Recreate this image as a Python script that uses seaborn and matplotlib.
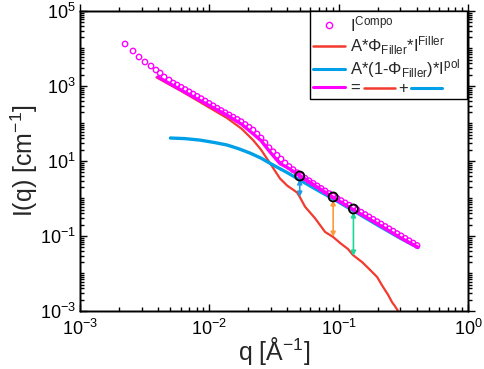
import seaborn as sns
import matplotlib.pyplot as plt
import numpy as np
import pandas as pd
from matplotlib.lines import Line2D
from matplotlib.ticker import FixedLocator, LogLocator, NullFormatter

# I^Compo : measured composite curve (open circles)
q_compo = [0.00223, 0.00257, 0.00286, 0.00318, 0.00354, 0.00387, 0.00416, 0.00447, 0.00488, 0.00524, 0.00562,
           0.00604, 0.00649, 0.00697, 0.00748, 0.00803, 0.00862, 0.00926, 0.00994, 0.01068, 0.01147,
           0.01231, 0.01322, 0.01420, 0.01525, 0.01637, 0.01758, 0.01888, 0.02027, 0.02176, 0.02337,
           0.02510, 0.02695, 0.02894, 0.03107, 0.03336, 0.03583, 0.03847, 0.04131, 0.04436, 0.04763,
           0.05115, 0.05492, 0.05897, 0.06333, 0.06800, 0.07302, 0.07841, 0.08419, 0.09041, 0.09708,
           0.1042, 0.1119, 0.1202, 0.1291, 0.1386, 0.1488, 0.1598, 0.1716, 0.1843, 0.1979,
           0.2125, 0.2281, 0.2450, 0.2631, 0.2825, 0.3033, 0.3257, 0.3497, 0.3755, 0.4033]
i_compo = [13200, 8580, 5930, 4365, 3415, 2670, 2220, 1740, 1445, 1200, 1064,
           926, 806, 701, 611, 531, 461, 398, 344, 297, 256,
           222, 194, 169, 148, 129, 112, 94.3, 79.5, 67.1, 52.5,
           41.1, 30.7, 22.6, 17.7, 14.2, 11.3, 8.85, 7.12, 5.89, 4.88,
           4.07, 3.48, 2.98, 2.55, 2.18, 1.86, 1.59, 1.36, 1.17, 1.01,
           0.881, 0.765, 0.665, 0.578, 0.500, 0.432, 0.374, 0.323, 0.279, 0.241,
           0.209, 0.180, 0.156, 0.135, 0.116, 0.101, 0.087, 0.075, 0.065, 0.056]

# A*Phi_Filler*I^Filler
q_filler = [0.0039, 0.0063, 0.010, 0.0137, 0.0178, 0.0218, 0.0251, 0.0294, 0.0352, 0.040, 0.0476,
            0.050, 0.055, 0.0655, 0.0785, 0.0906, 0.1026, 0.118, 0.129, 0.152, 0.166, 0.198,
            0.220, 0.241, 0.259, 0.270, 0.288]
i_filler = [1700, 680, 265, 140, 72, 36, 20, 8.8, 3.4, 2.2, 1.45,
            1.1, 0.60, 0.30, 0.128, 0.094, 0.065, 0.045, 0.031, 0.020, 0.0149, 0.0081,
            0.0044, 0.0027, 0.0017, 0.0014, 0.0010]

# A*(1-Phi_Filler)*I^pol
q_pol = [0.0050, 0.0065, 0.0085, 0.0110, 0.0137, 0.0170, 0.0206, 0.025, 0.0311, 0.040, 0.0502,
         0.070, 0.0906, 0.13, 0.20, 0.30, 0.41]
i_pol = [41, 39.5, 36, 31, 26.7, 21, 16.3, 12, 7.8, 4.9, 3.1,
         1.6, 0.98, 0.47, 0.195, 0.087, 0.049]

# sum of the two contributions
q_sum = [0.0040, 0.0063, 0.010, 0.0137, 0.0178, 0.0218, 0.0251, 0.0294, 0.0352, 0.040, 0.0502,
         0.070, 0.0906, 0.13, 0.20, 0.30, 0.41]
i_sum = [1740, 720, 300, 167, 95, 53, 35, 17.5, 8.5, 6.7, 4.1,
         1.9, 1.07, 0.50, 0.21, 0.09, 0.050]

# highlighted points and the arrows under them
q_marks = [0.050, 0.0906, 0.130]
i_marks = [3.98, 1.10, 0.525]
arrow_top = [3.3, 0.91, 0.436]
arrow_bottom = [1.1, 0.094, 0.0293]
arrow_colors = ["#1e9be6", "#ff9a3c", "#1fd69c"]

red = "#f23a2e"
blue = "#00a0e9"
magenta = "#ff00ff"

sns.set_style("ticks")
plt.rcParams['font.family'] = ['Liberation Sans', 'DejaVu Sans']
plt.rcParams['mathtext.fontset'] = 'custom'
plt.rcParams['mathtext.rm'] = 'Liberation Sans'
plt.rcParams['mathtext.it'] = 'Liberation Sans:italic'
plt.rcParams['mathtext.bf'] = 'Liberation Sans:bold'
plt.rcParams['axes.unicode_minus'] = False

fig = plt.figure(figsize=(4.84, 3.69), dpi=100)
ax = fig.add_axes([0.1653, 0.1572, 0.8017, 0.813])

sns.lineplot(x=q_filler, y=i_filler, color=red, lw=1.6, sort=False, estimator=None, ax=ax, zorder=2)
sns.lineplot(x=q_pol, y=i_pol, color=blue, lw=2.4, sort=False, estimator=None, ax=ax, zorder=3)
sns.lineplot(x=q_sum, y=i_sum, color=magenta, lw=2.4, sort=False, estimator=None, ax=ax, zorder=4)
sns.scatterplot(x=q_compo, y=i_compo, marker='o', s=15, facecolors='none', edgecolor=magenta,
                linewidth=1.0, ax=ax, zorder=5)
sns.scatterplot(x=q_marks, y=i_marks, marker='o', s=42, facecolors='none', edgecolor='black',
                linewidth=1.3, ax=ax, zorder=7)
for q, top, bot, c in zip(q_marks, arrow_top, arrow_bottom, arrow_colors):
    ax.annotate("", xy=(q, bot), xytext=(q, top),
                arrowprops=dict(arrowstyle='<|-|>', color=c, lw=1.2, mutation_scale=7,
                                shrinkA=0, shrinkB=0), zorder=6)

ax.set_xscale('log')
ax.set_yscale('log')
ax.set_xlim(1e-3, 1)
ax.set_ylim(1e-3, 1e5)

ax.xaxis.set_major_locator(FixedLocator([1e-3, 1e-2, 1e-1, 1]))
ax.xaxis.set_minor_locator(LogLocator(base=10, subs=np.arange(2, 10), numticks=20))
ax.xaxis.set_minor_formatter(NullFormatter())
ax.yaxis.set_major_locator(FixedLocator([1e-3, 1e-1, 1e1, 1e3, 1e5]))
ax.yaxis.set_minor_locator(LogLocator(base=10, subs=np.arange(1, 10), numticks=30))
ax.yaxis.set_minor_formatter(NullFormatter())
ax.tick_params(which='both', direction='in', top=False, right=False, labelsize=13,
               colors='black', width=1.0)
ax.tick_params(which='major', length=5)
ax.tick_params(which='minor', length=3)
ax.tick_params(axis='x', which='major', pad=6)
ax.tick_params(axis='y', which='major', pad=3)
for s in ax.spines.values():
    s.set_visible(True)
    s.set_color('black')
    s.set_linewidth(1.0)

ax.set_xlabel("q [Å$^{-1}$]", fontsize=18, labelpad=-3)
ax.set_ylabel("I(q) [cm$^{-1}$]", fontsize=18, labelpad=0)

# outward ticks on the top and right edges
axt = ax.twiny()
axt.set_xscale('log')
axt.set_xlim(ax.get_xlim())
axt.xaxis.set_major_locator(FixedLocator([1e-3, 1e-2, 1e-1, 1]))
axt.xaxis.set_minor_locator(LogLocator(base=10, subs=np.arange(2, 10), numticks=20))
axt.tick_params(which='both', direction='out', labeltop=False, width=1.0, colors='black')
axt.tick_params(which='major', length=5)
axt.tick_params(which='minor', length=3)

axr = ax.twinx()
axr.set_yscale('log')
axr.set_ylim(ax.get_ylim())
axr.yaxis.set_major_locator(FixedLocator([1e-3, 1e-1, 1e1, 1e3, 1e5]))
axr.yaxis.set_minor_locator(LogLocator(base=10, subs=np.arange(1, 10), numticks=30))
axr.tick_params(which='both', direction='out', labelright=False, width=1.0, colors='black')
axr.tick_params(which='major', length=5)
axr.tick_params(which='minor', length=3)
for a in (axt, axr):
    for s in a.spines.values():
        s.set_color('black')
        s.set_linewidth(1.0)

handles = [
    Line2D([], [], ls='none', marker='o', mfc='none', mec=magenta, ms=4.5, mew=1.0),
    Line2D([], [], color=red, lw=1.8),
    Line2D([], [], color=blue, lw=2.2),
    Line2D([], [], color=magenta, lw=2.2),
]
labels = [
    "I$^{\\mathrm{Compo}}$",
    "A*Φ$_{\\mathrm{Filler}}$*I$^{\\mathrm{Filler}}$",
    "A*(1-Φ$_{\\mathrm{Filler}}$)*I$^{\\mathrm{pol}}$",
    "=",
]
leg = axr.legend(handles, labels, loc='upper left', bbox_to_anchor=(0.593, 0.725, 0.405, 0.275),
                 mode='expand', borderaxespad=0, fontsize=12, frameon=True, fancybox=False,
                 edgecolor='black', handlelength=1.9, handletextpad=0.3, labelspacing=0.02,
                 borderpad=0.2)
leg.get_frame().set_linewidth(1.0)
leg.get_frame().set_alpha(1)

# "= red + blue" row
fig.canvas.draw()
bb = leg.get_texts()[3].get_window_extent()
W, H = fig.bbox.width, fig.bbox.height
yc = (bb.y0 + bb.y1) / 2 / H
x0 = bb.x0
fig.add_artist(Line2D([(x0 + 14) / W, (x0 + 45) / W], [yc, yc], color=red, lw=1.8))
fig.text((x0 + 53) / W, yc, "+", fontsize=12, va='center', ha='center')
fig.add_artist(Line2D([(x0 + 61) / W, (x0 + 92) / W], [yc, yc], color=blue, lw=2.2))

fig.savefig("out.png", dpi=100)
